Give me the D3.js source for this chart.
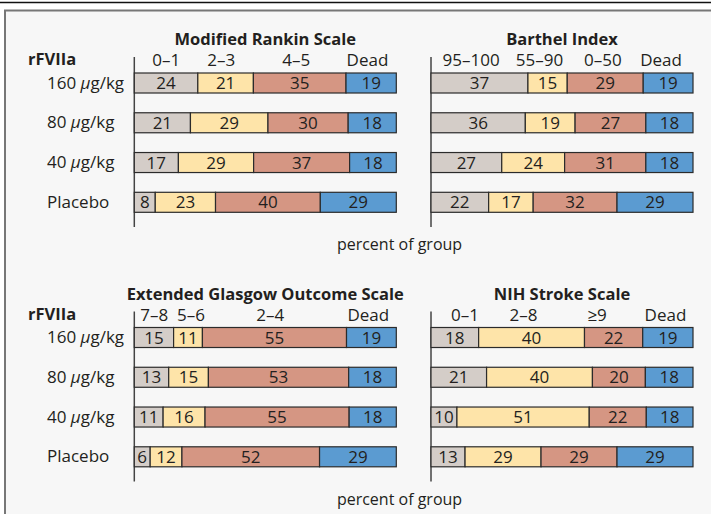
<!DOCTYPE html>
<html>
<head>
<meta charset="utf-8">
<script src="https://cdn.jsdelivr.net/npm/d3@7"></script>
<style>
  body { margin: 0; background: #fff; }
  text { font-family: "Open Sans", Lato, sans-serif; fill: #231f20; }
  .title { font-weight: bold; font-size: 16.5px; }
  .cat { font-size: 17px; }
  .row { font-size: 17px; }
  .val { font-size: 17px; }
  .xlab { font-size: 16px; }
</style>
</head>
<body>
<svg id="chart" width="711" height="514"></svg>
<script>
// rows, top to bottom
const groups = ["160 µg/kg", "80 µg/kg", "40 µg/kg", "Placebo"];

// percent of group per category (gray, yellow, salmon, dead)
const rankin  = [[24, 21, 35, 19], [21, 29, 30, 18], [17, 29, 37, 18], [8, 23, 40, 29]];
const barthel = [[37, 15, 29, 19], [36, 19, 27, 18], [27, 24, 31, 18], [22, 17, 32, 29]];
const glasgow = [[15, 11, 55, 19], [13, 15, 53, 18], [11, 16, 55, 18], [6, 12, 52, 29]];
const nihss   = [[18, 40, 22, 19], [21, 40, 20, 18], [10, 51, 22, 18], [13, 29, 29, 29]];

// header labels and where they sit (in percent along the bar)
const rankinCats  = ["0–1", "2–3", "4–5", "Dead"];
const rankinPos   = [12.2, 33.2, 61.8, 89];
const barthelCats = ["95–100", "55–90", "0–50", "Dead"];
const barthelPos  = [15.3, 41.4, 65.6, 87.8];
const glasgowCats = ["7–8", "5–6", "2–4", "Dead"];
const glasgowPos  = [7.6, 21.6, 51.9, 89.3];
const nihssCats   = ["0–1", "2–8", "≥9", "Dead"];
const nihssPos    = [13, 35.3, 63.4, 89.5];

const colors = ["#d4cdc8", "#fee4a9", "#d59683", "#5b9bd1"];

const svg = d3.select("#chart");

// frame
svg.append("rect")
    .attr("x", 5).attr("y", 10.5)
    .attr("width", 730).attr("height", 530)
    .attr("fill", "#f7f7f7")
    .attr("stroke", "#777")
    .attr("stroke-width", 2);
svg.append("line")
    .attr("x1", 0).attr("x2", 711)
    .attr("y1", 2.5).attr("y2", 2.5)
    .attr("stroke", "#111")
    .attr("stroke-width", 1.6);

const panelWidth = 262;

function panel(data, title, cats, catPos, x0, y0) {
    const x = d3.scaleLinear().domain([0, 100]).range([x0, x0 + panelWidth]);
    const y = d3.scaleBand().domain(groups)
        .range([y0 + 73, y0 + 212.3])
        .paddingInner(0.497);

    const g = svg.append("g");

    g.append("text")
        .attr("class", "title")
        .attr("x", x(50))
        .attr("y", y0 + 45)
        .attr("text-anchor", "middle")
        .text(title);

    g.selectAll(".cat")
        .data(cats)
        .join("text")
        .attr("class", "cat")
        .attr("x", (d, i) => x(catPos[i]))
        .attr("y", y0 + 66)
        .attr("text-anchor", "middle")
        .text(d => d);

    // vertical axis line
    g.append("line")
        .attr("x1", x0).attr("x2", x0)
        .attr("y1", y0 + 57).attr("y2", y0 + 227)
        .attr("stroke", "#444")
        .attr("stroke-width", 1.5);

    const rows = g.selectAll(".bar")
        .data(data)
        .join("g")
        .attr("transform", (d, i) => `translate(0, ${y(groups[i])})`);

    rows.each(function(row) {
        const total = d3.sum(row);
        let cum = 0;
        const segs = row.map((v, k) => {
            const s = { v: v, k: k, a: cum / total * 100, b: (cum + v) / total * 100 };
            cum += v;
            return s;
        });
        const r = d3.select(this);
        r.selectAll("rect")
            .data(segs)
            .join("rect")
            .attr("x", d => x(d.a))
            .attr("y", 0)
            .attr("width", d => x(d.b) - x(d.a))
            .attr("height", y.bandwidth())
            .attr("fill", d => colors[d.k])
            .attr("stroke", "#2b2b2b")
            .attr("stroke-width", 1.2);
        r.selectAll("text")
            .data(segs)
            .join("text")
            .attr("class", "val")
            .attr("x", d => (x(d.a) + x(d.b)) / 2)
            .attr("y", y.bandwidth() / 2 + 6)
            .attr("text-anchor", "middle")
            .text(d => d.v);
    });

    return y;
}

function rowLabels(y, y0) {
    svg.append("text")
        .attr("class", "title")
        .attr("x", 28)
        .attr("y", y0 + 65)
        .text("rFVIIa");

    const lab = svg.selectAll(null)
        .data(groups)
        .join("text")
        .attr("class", "row")
        .attr("x", 47)
        .attr("y", d => y(d) + y.bandwidth() / 2 + 5.5);
    lab.each(function(d) {
        const t = d3.select(this);
        const parts = d.split("µ");
        if (parts.length > 1) {
            t.append("tspan").text(parts[0]);
            t.append("tspan").attr("font-style", "italic").text("µ");
            t.append("tspan").text(parts[1]);
        } else {
            t.text(d);
        }
    });

    svg.append("text")
        .attr("class", "xlab")
        .attr("x", 399.5)
        .attr("y", y0 + 250)
        .attr("text-anchor", "middle")
        .text("percent of group");
}

const yTop = panel(rankin, "Modified Rankin Scale", rankinCats, rankinPos, 134.3, 0);
panel(barthel, "Barthel Index", barthelCats, barthelPos, 431, 0);
rowLabels(yTop, 0);

const yBot = panel(glasgow, "Extended Glasgow Outcome Scale", glasgowCats, glasgowPos, 134.3, 254.5);
panel(nihss, "NIH Stroke Scale", nihssCats, nihssPos, 431, 254.5);
rowLabels(yBot, 254.5);
</script>
</body>
</html>
